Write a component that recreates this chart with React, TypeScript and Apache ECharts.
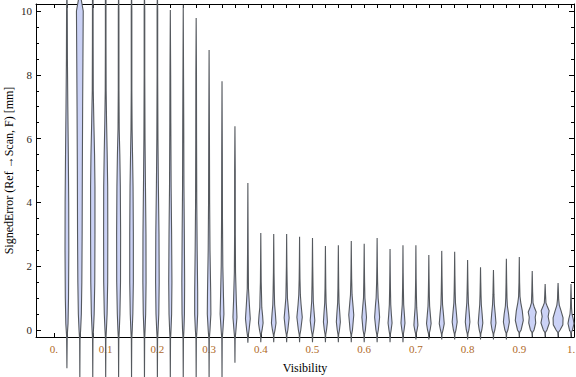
import React, { useEffect, useRef } from "react";
import * as echarts from "echarts";

// Visibility categories (one violin each)
const visibility = [
  0.025, 0.05, 0.075, 0.1, 0.125, 0.15, 0.175, 0.2, 0.225, 0.25,
  0.275, 0.3, 0.325, 0.35, 0.375, 0.4, 0.425, 0.45, 0.475, 0.5,
  0.525, 0.55, 0.575, 0.6, 0.625, 0.65, 0.675, 0.7, 0.725, 0.75,
  0.775, 0.8, 0.825, 0.85, 0.875, 0.9, 0.925, 0.95, 0.975, 1.0,
];

// Minimum signed error of each distribution [mm]
const minError = [
  -1.2, -1.6, -1.6, -1.6, -1.6, -1.6, -1.6, -1.6, -1.6, -1.6,
  -1.6, -1.6, -1.6, -1.03, -0.4, -0.38, -0.38, -0.38, -0.38, -0.38,
  -0.38, -0.38, -0.38, -0.38, -0.38, -0.38, -0.38, -0.3, -0.3, -0.3,
  -0.3, -0.3, -0.3, -0.3, -0.3, -0.22, -0.22, -0.22, -0.22, -0.22,
];

// Maximum signed error of each distribution [mm]
const maxError = [
  10.6, 10.6, 10.6, 10.6, 10.6, 10.6, 10.6, 10.6, 10.03, 10.2,
  9.78, 8.78, 7.8, 6.39, 4.61, 3.04, 3.01, 3.01, 2.92, 2.88,
  2.63, 2.66, 2.79, 2.7, 2.88, 2.54, 2.66, 2.66, 2.35, 2.48,
  2.45, 2.19, 1.97, 1.88, 2.23, 2.29, 1.85, 1.44, 1.47, 1.44,
];

// Density profile knots: [error, density]
const densityProfiles: number[][][] = [
  [[-0.2, 0.3], [0.2, 1.1], [1, 1.6], [2.5, 1.9], [4, 1.8], [5.5, 1.4], [7, 0.9], [8.5, 0.5], [10, 0.35]],
  [[-0.3, 0.2], [0, 0.8], [0.5, 1.5], [1.5, 2.0], [3, 2.3], [5, 2.5], [7, 2.8], [8.5, 3.1], [10, 3.4]],
  [[-0.3, 0.2], [0, 0.7], [0.5, 1.4], [1.5, 2.0], [3, 2.2], [4.5, 2.2], [5.5, 1.8], [6.5, 1.1], [7.5, 0.5], [9, 0.35], [10.4, 0.3]],
  [[-0.3, 0.2], [0, 0.7], [0.5, 1.4], [1.5, 2.0], [3, 2.1], [4.5, 2.0], [5.5, 1.5], [6.5, 0.9], [7.5, 0.45], [9, 0.3], [10.4, 0.3]],
  [[-0.3, 0.2], [0, 0.7], [0.5, 1.3], [1.5, 1.9], [3, 2.0], [4.5, 1.7], [5.5, 1.2], [6.3, 0.6], [7.5, 0.35], [10, 0.3]],
  [[-0.3, 0.2], [0, 0.7], [0.5, 1.3], [1.5, 1.8], [3, 1.8], [4.5, 1.5], [5.5, 1.0], [6.3, 0.55], [7.5, 0.3], [10, 0.3]],
  [[-0.3, 0.2], [0, 0.6], [0.5, 1.2], [1.5, 1.6], [3, 1.5], [4.5, 1.0], [6, 0.55], [8, 0.3], [10, 0.3]],
  [[-0.3, 0.2], [0, 0.7], [0.5, 1.4], [1.5, 1.8], [3, 1.6], [4.5, 1.0], [6, 0.55], [8, 0.3], [10, 0.3]],
  [[-0.3, 0.2], [0, 0.7], [0.5, 1.3], [1.5, 1.6], [3, 1.3], [4.5, 0.8], [6.5, 0.5], [8, 0.35]],
  [[-0.3, 0.2], [0, 0.7], [0.5, 1.2], [1.5, 1.4], [3, 1.1], [4.5, 0.7], [6.5, 0.5], [8, 0.3]],
  [[-0.3, 0.2], [0, 0.8], [0.5, 1.5], [1.2, 1.5], [2.5, 1.0], [4, 0.6], [6, 0.4], [8, 0.3]],
  [[-0.3, 0.2], [0, 0.9], [0.5, 1.8], [1.2, 1.6], [2.5, 0.9], [4, 0.55], [6, 0.35]],
  [[-0.3, 0.2], [0, 0.9], [0.5, 1.9], [1.0, 1.5], [2, 0.8], [3.5, 0.45], [5.5, 0.3]],
  [[-0.3, 0.2], [0, 1.0], [0.4, 2.0], [0.9, 1.4], [1.8, 0.6], [3, 0.35], [5, 0.3]],
  [[-0.2, 0.3], [0, 1.2], [0.35, 2.4], [0.8, 1.5], [1.3, 0.6], [2.5, 0.3]],
  [[-0.15, 0.3], [0, 1.3], [0.22, 2.3], [0.45, 1.8], [0.7, 1.0], [1.0, 0.8], [1.5, 0.4], [2.2, 0.2]],
  [[-0.15, 0.3], [0, 1.3], [0.22, 2.3], [0.5, 1.7], [0.8, 0.9], [1.2, 0.6], [1.8, 0.3]],
  [[-0.15, 0.3], [0, 1.2], [0.38, 2.5], [0.7, 1.6], [1.0, 0.8], [1.5, 0.5], [2, 0.25]],
  [[-0.15, 0.3], [0, 1.2], [0.4, 2.7], [0.8, 1.5], [1.1, 0.8], [1.6, 0.4], [2.1, 0.2]],
  [[-0.15, 0.3], [0, 1.2], [0.3, 2.3], [0.6, 1.5], [0.9, 0.8], [1.4, 0.5], [2, 0.25]],
  [[-0.15, 0.3], [0, 1.1], [0.25, 2.0], [0.55, 1.4], [0.85, 0.7], [1.3, 0.4], [1.9, 0.2]],
  [[-0.15, 0.3], [0, 1.1], [0.25, 2.0], [0.55, 1.4], [0.85, 0.7], [1.3, 0.4], [1.9, 0.2]],
  [[-0.15, 0.3], [0, 1.2], [0.47, 2.5], [0.85, 1.5], [1.1, 0.8], [1.6, 0.4], [2.1, 0.2]],
  [[-0.15, 0.3], [0, 1.2], [0.4, 2.3], [0.75, 1.4], [1.0, 0.7], [1.5, 0.4], [2, 0.2]],
  [[-0.15, 0.3], [0, 1.2], [0.4, 2.5], [0.8, 1.6], [1.0, 1.0], [1.5, 0.5], [2, 0.25]],
  [[-0.15, 0.3], [0, 1.1], [0.22, 2.0], [0.5, 1.3], [0.8, 0.7], [1.3, 0.4], [1.8, 0.2]],
  [[-0.15, 0.3], [0, 1.1], [0.22, 2.0], [0.5, 1.4], [0.8, 0.7], [1.3, 0.4], [1.8, 0.2]],
  [[-0.12, 0.3], [0, 1.2], [0.15, 2.0], [0.4, 1.5], [0.7, 0.8], [1.1, 0.5], [1.6, 0.25]],
  [[-0.12, 0.3], [0, 1.3], [0.2, 2.3], [0.45, 1.6], [0.75, 0.8], [1.1, 0.5], [1.6, 0.25]],
  [[-0.12, 0.3], [0, 1.3], [0.2, 2.5], [0.5, 1.7], [0.8, 0.8], [1.2, 0.5], [1.7, 0.25]],
  [[-0.12, 0.3], [0, 1.3], [0.25, 2.5], [0.55, 1.7], [0.85, 0.8], [1.2, 0.5], [1.7, 0.25]],
  [[-0.12, 0.3], [0, 1.3], [0.25, 2.3], [0.55, 1.6], [0.85, 0.8], [1.2, 0.5], [1.6, 0.25]],
  [[-0.12, 0.3], [0, 1.3], [0.22, 2.3], [0.5, 1.6], [0.8, 0.8], [1.1, 0.5], [1.5, 0.25]],
  [[-0.12, 0.3], [0, 1.4], [0.22, 2.5], [0.5, 1.8], [0.8, 0.9], [1.1, 0.5], [1.5, 0.25]],
  [[-0.1, 0.3], [0, 1.5], [0.25, 3.0], [0.5, 2.2], [0.75, 1.0], [1.0, 0.6], [1.5, 0.3]],
  [[-0.08, 0.3], [0, 1.8], [0.3, 4.0], [0.6, 3.0], [0.85, 1.5], [1.05, 0.7], [1.5, 0.3]],
  [[-0.08, 0.3], [0, 1.8], [0.22, 3.5], [0.4, 3.0], [0.56, 4.0], [0.72, 2.0], [0.85, 0.8], [1.2, 0.4]],
  [[-0.08, 0.3], [0, 1.8], [0.22, 4.2], [0.42, 3.0], [0.6, 4.0], [0.75, 2.0], [0.85, 0.8], [1.1, 0.4]],
  [[-0.08, 0.3], [0, 2.0], [0.16, 4.8], [0.38, 5.0], [0.6, 3.0], [0.78, 1.2], [0.95, 0.6], [1.2, 0.35]],
  [[-0.08, 0.3], [0, 1.5], [0.2, 3.0], [0.35, 2.2], [0.5, 1.0], [0.7, 0.5], [1.0, 0.3]],
];

const xLabelValues = [0, 0.1, 0.2, 0.3, 0.4, 0.5, 0.6, 0.7, 0.8, 0.9, 1.0];
const xTickValues = [0, ...visibility];
const yLabelValues = [0, 2, 4, 6, 8, 10];
const yMinorValues = [0.5, 1, 1.5, 2.5, 3, 3.5, 4.5, 5, 5.5, 6.5, 7, 7.5, 8.5, 9, 9.5];

const yTitle = "SignedError (Ref →Scan, F) [mm]";
const xTitle = "Visibility";

const DENSITY_SCALE = 0.00193; // density unit -> visibility units

const FONT = "'Liberation Serif', 'DejaVu Serif', serif";

export default function App() {
  const ref = useRef<HTMLDivElement>(null);
  useEffect(() => {
    if (!ref.current) return;
    const chart = echarts.init(ref.current, null, { renderer: "svg" });

    const renderItem = (params: any, api: any) => {
      const i = api.value(1);
      const x = api.value(0);
      const knots = [[minError[i], 0], ...densityProfiles[i], [maxError[i], 0]];
      const right = knots.map(([e, d]) => api.coord([x + d * DENSITY_SCALE, e]));
      const left = knots
        .slice()
        .reverse()
        .map(([e, d]) => api.coord([x - d * DENSITY_SCALE, e]));
      return {
        type: "polygon",
        shape: { points: [...right, ...left] },
        style: { fill: "#cbd2f6", stroke: "#55595e", lineWidth: 1.1 },
      };
    };

    const xMin = -0.0348;
    const xMax = 1.0058;
    const yMin = -0.22;
    const yMax = 10.22;

    const gridRect = {
      left: 36,
      right: 2,
      top: 4,
      bottom: 40,
      show: false,
      containLabel: false,
      outerBoundsMode: "none",
    };

    const xBase = (gridIndex: number) => ({
      type: "value",
      gridIndex,
      min: xMin,
      max: xMax,
      splitLine: { show: false },
      axisLine: { show: true, onZero: false, lineStyle: { color: "#000", width: 1 } },
    });
    const yBase = (gridIndex: number) => ({
      type: "value",
      gridIndex,
      min: yMin,
      max: yMax,
      splitLine: { show: false },
      axisLine: { show: true, onZero: false, lineStyle: { color: "#000", width: 1 } },
    });
    const hidden = { show: false };

    chart.setOption({
      animation: false,
      backgroundColor: "#fff",
      grid: [gridRect, gridRect, gridRect, gridRect],
      graphic: [
        {
          type: "text",
          x: 9,
          y: 170.5,
          rotation: Math.PI / 2,
          style: {
            text: yTitle,
            fontFamily: FONT,
            fontSize: 12,
            fill: "#000",
            align: "center",
            verticalAlign: "middle",
          },
        },
      ],
      xAxis: [
        {
          ...xBase(0),
          position: "bottom",
          name: xTitle,
          nameLocation: "middle",
          nameGap: 25,
          nameTextStyle: { fontFamily: FONT, fontSize: 12, color: "#000" },
          axisTick: { show: true, inside: true, length: 4, customValues: xTickValues, lineStyle: { color: "#000" } },
          axisLabel: {
            show: true,
            customValues: xLabelValues,
            margin: 6,
            fontFamily: FONT,
            fontSize: 11,
            color: "#b06a28",
            formatter: (v: number) => (v === 0 ? "0." : v === 1 ? "1." : v.toFixed(1)),
          },
        },
        {
          ...xBase(1),
          position: "top",
          axisTick: { show: true, inside: true, length: 4, customValues: xTickValues, lineStyle: { color: "#000" } },
          axisLabel: { show: false },
        },
        { ...xBase(2), ...hidden },
        { ...xBase(3), ...hidden },
      ],
      yAxis: [
        {
          ...yBase(0),
          position: "left",
          axisTick: { show: true, inside: true, length: 5, customValues: yLabelValues, lineStyle: { color: "#000" } },
          axisLabel: {
            show: true,
            customValues: yLabelValues,
            margin: 4,
            fontFamily: FONT,
            fontSize: 11,
            color: "#2a2420",
          },
        },
        {
          ...yBase(1),
          position: "right",
          axisTick: { show: true, inside: true, length: 5, customValues: yLabelValues, lineStyle: { color: "#000" } },
          axisLabel: { show: false },
        },
        {
          ...yBase(2),
          position: "left",
          axisLine: { show: false, onZero: false },
          axisTick: { show: true, inside: true, length: 3, customValues: yMinorValues, lineStyle: { color: "#000" } },
          axisLabel: { show: false },
        },
        {
          ...yBase(3),
          position: "right",
          axisLine: { show: false, onZero: false },
          axisTick: { show: true, inside: true, length: 3, customValues: yMinorValues, lineStyle: { color: "#000" } },
          axisLabel: { show: false },
        },
      ],
      series: [
        {
          type: "custom",
          xAxisIndex: 0,
          yAxisIndex: 0,
          clip: false,
          renderItem,
          encode: { x: 0, y: 1 },
          data: visibility.map((v, i) => [v, i]),
          z: 1,
        },
      ],
    });
    return () => chart.dispose();
  }, []);
  return (
    <div
      ref={ref}
      style={{ position: "fixed", left: 0, top: 0, width: 576, height: 377, background: "#fff" }}
    />
  );
}
